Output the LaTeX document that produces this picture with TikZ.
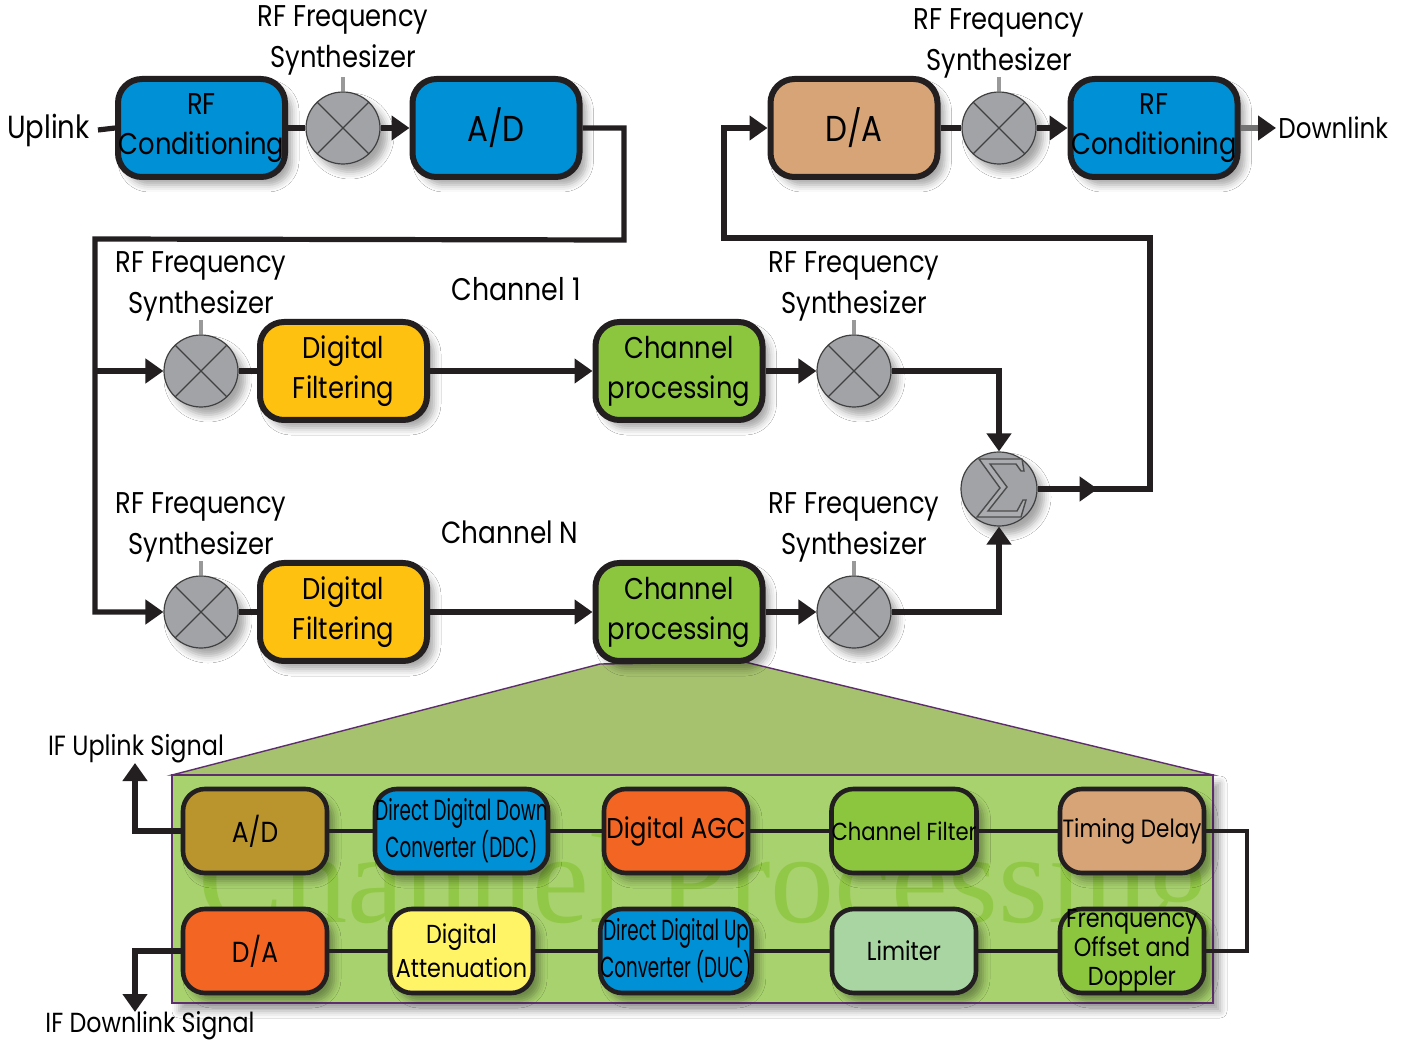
\documentclass[tikz,border=0pt]{standalone}
\usepackage{fontspec}
\setmainfont{Poppins}[FakeStretch=0.86]
\newfontfamily\condfont{Poppins}[FakeStretch=0.63]
\newfontfamily\wmfont{Liberation Serif}
\usetikzlibrary{shapes.geometric,arrows.meta,shadows.blur,decorations.markings}
\definecolor{cblue}{RGB}{0,144,214}
\definecolor{ctan}{RGB}{214,164,119}
\definecolor{cyel}{RGB}{254,193,16}
\definecolor{cgreen}{RGB}{140,198,63}
\definecolor{cgray}{RGB}{161,163,166}
\definecolor{colive}{RGB}{186,149,46}
\definecolor{corange}{RGB}{242,101,34}
\definecolor{clyel}{RGB}{255,244,102}
\definecolor{clim}{RGB}{169,213,163}
\definecolor{cline}{RGB}{35,31,32}
\definecolor{cpurple}{RGB}{93,45,110}
\definecolor{ctrap}{RGB}{166,194,110}
\definecolor{crect}{RGB}{168,210,110}
\tikzset{
  shd/.style={blur shadow={shadow xshift=3.5pt, shadow yshift=-4pt, shadow blur radius=3.5pt, shadow opacity=35}},
  bigbox/.style={draw=cline, line width=3pt, rounded corners=12pt, minimum width=83.5pt, minimum height=49pt, inner sep=0pt, align=center, font=\fontsize{15}{20}\selectfont, shd},
  smallbox/.style={draw=cline, line width=2.3pt, rounded corners=11pt, minimum width=72pt, minimum height=42pt, inner sep=0pt, align=center, font=\fontsize{13}{17}\selectfont, shd},
  mixer/.style={ellipse, draw=black!75, line width=0.6pt, fill=cgray, minimum width=37pt, minimum height=36pt, inner sep=0pt, shd},
  lbl/.style={inner sep=0pt, font=\fontsize{15}{17}\selectfont},
  ln/.style={draw=cline, line width=2.6pt, line join=miter},
  ln2/.style={draw=cline, line width=2.3pt, line join=miter},
  arr/.style={ln, -{Triangle[length=9pt,width=12pt]}},
  tick/.style={draw=black!40, line width=1.6pt},
}
\newcommand\mkmixer[3]{%
  \node[mixer] (#1) at (#2,#3) {};
  \draw[black!75, line width=0.6pt] (#1.45) -- (#1.225) (#1.135) -- (#1.315);
  \draw[tick] (#1.north) -- ++(0,-14);
}
\begin{document}
\begin{tikzpicture}[x=0.5pt,y=-0.5pt]
\useasboundingbox[fill=white] (0,0) rectangle (1403,1042);

% ---------- bottom panel (background) ----------
\fill[ctrap, draw=cpurple, line width=0.7pt] (600,664) -- (172,775) -- (1213,775) -- (745,662) -- cycle;
\draw[fill=crect, draw=cpurple, line width=0.8pt, shd] (172,775) rectangle (1213,1003);
\begin{scope}
  \clip (172,775) rectangle (1213,1003);
  \node[font=\wmfont\fontsize{64}{64}\selectfont, text=cgreen!80!crect, anchor=base west, inner sep=0pt] at (198,922) {Channel Processing};
\end{scope}

% ---------- top row ----------
\node[bigbox, fill=cblue] (rfc1) at (201.5,128) {RF\\Conditioning};
\mkmixer{mx1}{343}{128}
\node[bigbox, fill=cblue, font=\fontsize{18}{20}\selectfont] (ad1) at (496,128) {A/D};
\node[lbl] at (343,20) {RF Frequency};
\node[lbl] at (343,60) {Synthesizer};
\node[lbl, font=\fontsize{16}{18}\selectfont, anchor=east, inner sep=4pt] (up) at (98,130) {Uplink};

\node[bigbox, fill=ctan, font=\fontsize{18}{20}\selectfont] (da1) at (854,128) {D/A};
\mkmixer{mx2}{999}{128}
\node[bigbox, fill=cblue] (rfc2) at (1154,128) {RF\\Conditioning};
\node[lbl] at (999,23) {RF Frequency};
\node[lbl] at (999,63) {Synthesizer};
\node[lbl, font=\fontsize{14.3}{16}\selectfont, anchor=west, inner sep=1pt] (down) at (1276,128) {Downlink};

% ---------- channel 1 ----------
\mkmixer{mxa}{201}{371}
\node[bigbox, fill=cyel] (dfa) at (343.5,371) {Digital\\Filtering};
\node[bigbox, fill=cgreen] (cpa) at (679,371) {Channel\\processing};
\mkmixer{mxb}{854}{371}
\node[lbl] at (201,266) {RF Frequency};
\node[lbl] at (201,306) {Synthesizer};
\node[lbl] at (854,266) {RF Frequency};
\node[lbl] at (854,306) {Synthesizer};
\node[lbl, font=\fontsize{15.6}{17}\selectfont] at (516,289) {Channel 1};

% ---------- channel N ----------
\mkmixer{mxc}{201}{612}
\node[bigbox, fill=cyel] (dfn) at (343.5,612) {Digital\\Filtering};
\node[bigbox, fill=cgreen] (cpn) at (679,612) {Channel\\processing};
\mkmixer{mxd}{854}{612}
\node[lbl] at (201,507) {RF Frequency};
\node[lbl] at (201,547) {Synthesizer};
\node[lbl] at (854,507) {RF Frequency};
\node[lbl] at (854,547) {Synthesizer};
\node[lbl, font=\fontsize{15.3}{17}\selectfont] at (510,532) {Channel N};

% ---------- summer ----------
\node[mixer, minimum width=38pt, minimum height=37pt] (sum) at (999,489) {};
\draw[shift={(1001,488)}, draw=black!70, fill=cgray!90!white, line width=0.7pt, line join=miter]
  (-22,-29) -- (21,-29) -- (23,-17) -- (20,-17) -- (15,-24) -- (-11,-24) -- (6,-1) -- (-13,23)
  -- (16,23) -- (22,12) -- (25,12) -- (20,29) -- (-24,29) -- (-1,0) -- cycle;

% ---------- top connectors ----------
\draw[ln] (up.east) -- (rfc1.west);
\draw[ln] (rfc1.east) -- (mx1.west);
\draw[arr] (mx1.east) -- (ad1.west);
\draw[ln] (da1.east) -- (mx2.west);
\draw[arr] (mx2.east) -- (rfc2.west);
\draw[ln, draw=black!55, -{Triangle[length=9pt,width=12pt,color=cline]}] (rfc2.east) -- (down.west);

\coordinate (fa) at (95,371);
\draw[arr] (ad1.east) -- (624,128) -- (624,240) -- (95,239) |- (mxc.west);
\draw[arr] (fa) -- (mxa.west);
\draw[ln] (mxa.east) -- (dfa.west);
\draw[arr] (dfa.east) -- (cpa.west);
\draw[arr] (cpa.east) -- (mxb.west);
\draw[arr] (mxb.east) -| (sum.north);
\draw[ln] (mxc.east) -- (dfn.west);
\draw[arr] (dfn.east) -- (cpn.west);
\draw[arr] (cpn.east) -- (mxd.west);
\draw[arr] (mxd.east) -| (sum.south);
\draw[arr, postaction={decorate}, decoration={markings, mark=at position 30pt with {\arrow{Triangle[length=9pt,width=12pt]}}}]
  (sum.east) -- (1150,489) -- (1150,238) -- (724,238) |- (da1.west);

% ---------- channel processing detail ----------
\node[smallbox, fill=colive, font=\fontsize{14.5}{17}\selectfont] (ad2) at (255,831) {A/D};
\node[smallbox, fill=cblue, minimum width=86.5pt, font=\condfont\fontsize{14.5}{17}\selectfont] (ddc) at (461.5,831) {Direct Digital Down\\Converter (DDC)};
\node[smallbox, fill=corange, font=\fontsize{14.3}{17}\selectfont] (agc) at (676,831) {Digital AGC};
\node[smallbox, fill=cgreen, font=\fontsize{12.3}{17}\selectfont] (cf) at (904,831) {Channel Filter};
\node[smallbox, fill=ctan, font=\fontsize{12.5}{17}\selectfont] (td) at (1132,831) {Timing Delay};

\node[smallbox, fill=corange, font=\fontsize{14.5}{17}\selectfont] (da2) at (255,951) {D/A};
\node[smallbox, fill=clyel, minimum width=71.5pt] (att) at (461.5,951) {Digital\\Attenuation};
\node[smallbox, fill=cblue, font=\condfont\fontsize{14.5}{17}\selectfont] (duc) at (676,951) {Direct Digital Up\\Converter (DUC)};
\node[smallbox, fill=clim] (lim) at (904,951) {Limiter};
\node[smallbox, fill=cgreen, font=\fontsize{13}{14.5}\selectfont] (fod) at (1132,951) {Frenquency\\Offset and\\Doppler};

\draw[ln2] (ad2.east) -- (ddc.west);
\draw[ln2] (ddc.east) -- (agc.west);
\draw[ln2] (agc.east) -- (cf.west);
\draw[ln2] (cf.east) -- (td.west);
\draw[ln2] (da2.east) -- (att.west);
\draw[ln2] (att.east) -- (duc.west);
\draw[ln2] (duc.east) -- (lim.west);
\draw[ln2] (lim.east) -- (fod.west);
\draw[ln2, line width=2pt] (td.east) -- ++(41,0) |- (fod.east);

\coordinate (upend) at (135,763);
\coordinate (dnend) at (135,1012);
\draw[arr] (ad2.west) -| (upend);
\draw[arr] (da2.west) -| (dnend);
\node[lbl, font=\fontsize{13.9}{16}\selectfont] at (136,749) {IF Uplink Signal};
\node[lbl, font=\fontsize{13.8}{16}\selectfont] at (150,1026) {IF Downlink Signal};
\end{tikzpicture}
\end{document}
